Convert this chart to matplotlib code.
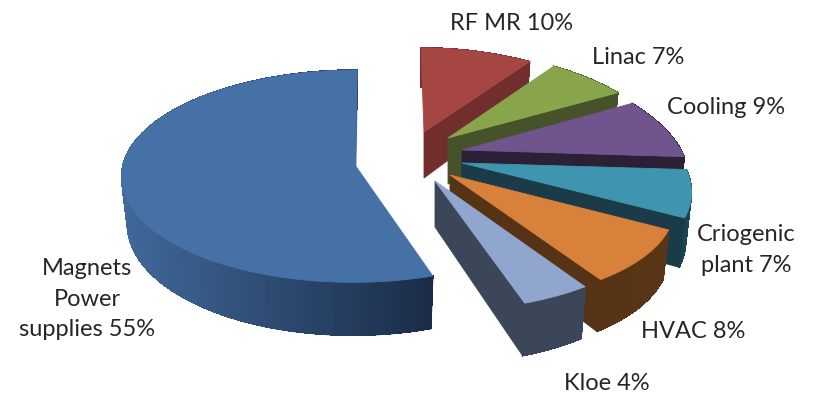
import numpy as np
import matplotlib
matplotlib.use('Agg')
import matplotlib.pyplot as plt
from matplotlib.colors import to_rgb

# shares in percent, clockwise from twelve o'clock
names = ['RF MR', 'Linac', 'Cooling', 'Criogenic\nplant', 'HVAC', 'Kloe', 'Magnets\nPower\nsupplies']
values = [10, 7, 9, 7, 8, 4, 55]

top_colors = ['#A54643', '#88A54B', '#70548E', '#3F95AE', '#D7813A', '#91A6CE', '#4571A6']
wall_left = ['#722E2C', '#4A5526', '#2C2036', '#184652', '#573316', '#3C4659', '#40689A']
wall_right = ['#722E2C', '#4A5526', '#2C2036', '#184652', '#5A3517', '#3C4659', '#1A2C47']
cut_colors = ['#722E2C', '#46522A', '#2C2036', '#1A3B47', '#573316', '#3C4659', '#3A659A']

# how far each slice is pulled out of the pie
center = (412, 161)
explode_x = [12, 36, 50, 50, 38, 23, -57]
explode_y = [-29, -23, -11, 2, 14, 20, 4]

# ellipse size and foreshortening per slice
radius_x = [224, 219, 219, 221, 217, 216, 232]
radius_y = [101, 103, 106, 103, 103, 104, 105]
persp_x = [.27, .27, .27, .27, .27, .27, .105]
persp_y = [.20, .20, .20, .20, .20, .20, .105]
lean = [-3, 0, 0, 0, 0, 0, 2]

label_x = [512, 638, 726, 746, 693, 607, 87]
label_y = [24, 58, 108, 250, 332, 384, 299]

THICK = 46
BOTTOM_SCALE = .975


def edge_points(i, angles):
    ax0 = center[0] + explode_x[i]
    ay0 = center[1] + explode_y[i]
    sx = np.sin(angles)
    cy = np.cos(angles)
    dx = radius_x[i] * sx / (1 + persp_x[i] * cy) + lean[i] * cy
    dy = radius_y[i] * cy / (1 + persp_y[i] * cy)
    top_x = ax0 + dx
    top_y = ay0 - dy
    bot_x = ax0 + dx * BOTTOM_SCALE
    bot_y = top_y + THICK * (1 - .15 * cy)
    return top_x, top_y, bot_x, bot_y


def mix(a, b, t):
    a = np.array(to_rgb(a))
    b = np.array(to_rgb(b))
    return tuple(a + (b - a) * t)


fig = plt.figure(figsize=(8.13, 3.93), dpi=100)
ax = fig.add_axes([0, 0, 1, 1])
ax.set_xlim(0, 813)
ax.set_ylim(393, 0)
ax.axis('off')

total = float(sum(values))
start = 0.0
for i, v in enumerate(values):
    end = start + v / total * 2 * np.pi
    n = max(int(v * 3), 16)
    angles = np.linspace(start, end, n + 1)
    tx, ty, bx, by = edge_points(i, angles)
    ax0 = center[0] + explode_x[i]
    ay0 = center[1] + explode_y[i]
    lo, hi = bx.min(), bx.max()

    # outer wall, shaded from left to right
    for k in range(n):
        c = mix(wall_left[i], wall_right[i], ((bx[k] + bx[k + 1]) / 2 - lo) / (hi - lo))
        ax.fill([tx[k], tx[k + 1], bx[k + 1], bx[k]],
                [ty[k], ty[k + 1], by[k + 1], by[k]],
                color=c, lw=.5, antialiased=False, zorder=i * 3 + 1)
        ax.plot(bx[k:k + 2], by[k:k + 2], color=c, lw=1, solid_capstyle='round', zorder=i * 3 + 1)
    # end edges of the wall so the sides are not jagged
    for k in (0, -1):
        c = mix(wall_left[i], wall_right[i], (bx[k] - lo) / (hi - lo))
        ax.plot([tx[k], bx[k]], [ty[k], by[k]], color=c, lw=1, zorder=i * 3 + 1)

    # cut face along the closing edge
    ax.fill([ax0, tx[-1], bx[-1], ax0],
            [ay0, ty[-1], by[-1], ay0 + THICK],
            color=cut_colors[i], lw=.6, zorder=i * 3 + 2)

    # top face
    ax.fill(np.r_[ax0, tx], np.r_[ay0, ty], color=top_colors[i], lw=.6, zorder=i * 3 + 3)
    start = end

for i, v in enumerate(values):
    ax.text(label_x[i], label_y[i], '%s %d%%' % (names[i], v), ha='center', va='center',
            family='Lato', fontsize=17, color='#262626', linespacing=1.55, zorder=50)

fig.savefig('out.png', dpi=100, facecolor='white')
